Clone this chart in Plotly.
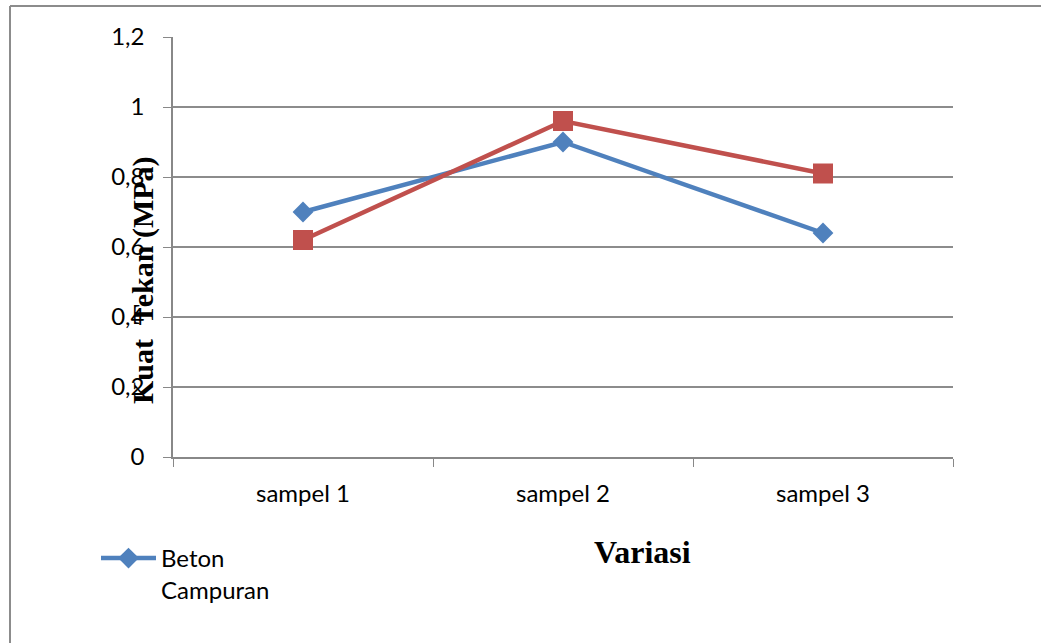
import plotly.graph_objects as go

categories = ["sampel 1", "sampel 2", "sampel 3"]
beton_campuran = [0.70, 0.90, 0.64]
beton_normal = [0.62, 0.96, 0.81]
y_tickvals = [0, 0.2, 0.4, 0.6, 0.8, 1.0, 1.2]
y_ticktext = ["0", "0,2", "0,4", "0,6", "0,8", "1", "1,2"]

W, H = 1041, 643
L, R, T, B = 173, 88, 37, 186
pw, ph = W - L - R, H - T - B

def px(x):
    return (x - L) / pw

def py(y):
    return (H - B - y) / ph

fig = go.Figure()
fig.add_trace(go.Scatter(
    x=categories, y=beton_campuran, name="Beton<br>Campuran",
    mode="lines+markers",
    line=dict(color="#4F81BD", width=4.5),
    marker=dict(symbol="diamond", size=16, color="#4F81BD"),
))
fig.add_trace(go.Scatter(
    x=categories, y=beton_normal, name="Beton Normal",
    mode="lines+markers", showlegend=False,
    line=dict(color="#C0504D", width=4.5),
    marker=dict(symbol="square", size=20, color="#C0504D"),
))

tickfont = dict(family="Lato, Open Sans, sans-serif", size=24, color="#000000")
fig.update_layout(
    width=W, height=H,
    margin=dict(l=L, r=R, t=T, b=B),
    paper_bgcolor="white", plot_bgcolor="white",
    xaxis=dict(
        type="category", tickson="boundaries", ticks="outside", ticklen=8,
        tickcolor="#888888", showline=True, linecolor="#888888", linewidth=1.5,
        showgrid=False, tickfont=tickfont, range=[-0.5, 2.5],
        ticklabelstandoff=14,
    ),
    yaxis=dict(
        range=[0, 1.2], tickvals=y_tickvals, ticktext=y_ticktext,
        ticks="outside", ticklen=8, tickcolor="#888888",
        showline=True, linecolor="#888888", linewidth=1.5,
        showgrid=True, gridcolor="#8c8c8c", gridwidth=1.5,
        zeroline=False, tickfont=tickfont, ticklabelstandoff=14,
    ),
    legend=dict(
        x=px(96), y=py(536), xanchor="left", yanchor="top",
        font=dict(family="Lato, Open Sans, sans-serif", size=24, color="#000000"),
        valign="top", bgcolor="rgba(0,0,0,0)", itemwidth=55,
    ),
    showlegend=True,
    annotations=[
        dict(text="<b>Kuat  Tekan (MPa)</b>", textangle=-90, x=px(124), y=py(280),
             xref="paper", yref="paper", showarrow=False,
             font=dict(family="Liberation Serif, Times New Roman, serif", size=30, color="#000000")),
        dict(text="<b>Variasi</b>", x=px(642), y=py(572), xref="paper", yref="paper",
             showarrow=False,
             font=dict(family="Liberation Serif, Times New Roman, serif", size=32, color="#000000")),
    ],
    shapes=[
        dict(type="line", xref="paper", yref="paper", x0=px(10), x1=px(10), y0=py(6), y1=py(643),
             line=dict(color="#8c8c8c", width=2)),
        dict(type="line", xref="paper", yref="paper", x0=px(10), x1=px(1041), y0=py(6), y1=py(6),
             line=dict(color="#8c8c8c", width=2)),
    ],
)

fig.write_html("out.html")
